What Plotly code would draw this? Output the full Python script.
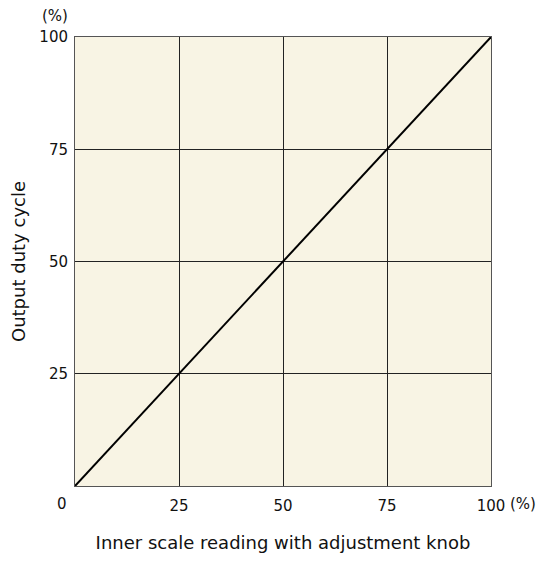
import plotly.graph_objects as go

title_x = 'Inner scale reading with adjustment knob'
title_y = 'Output duty cycle'

knob_reading = [0, 100]
duty_cycle = [0, 100]
tick_vals = [25, 50, 75, 100]
tick_text = ['25', '50', '75', '100']

font = dict(family='DejaVu Sans, Arial, sans-serif', size=15, color='#111111')
title_font = dict(font, size=18)

fig = go.Figure(go.Scatter(x=knob_reading, y=duty_cycle, mode='lines',
                           line=dict(color='black', width=2), showlegend=False))

axis_common = dict(range=[0, 100], tickvals=tick_vals, ticktext=tick_text,
                   showgrid=True, gridcolor='#222222', gridwidth=1,
                   showline=True, linecolor='#555555', linewidth=1, mirror=True,
                   zeroline=False, ticks='', tickfont=font, fixedrange=True,
                   automargin=False)

# page body adds 8px around the plot div, so the figure is drawn 16px smaller
fig.update_layout(
    width=533, height=545,
    margin=dict(l=67, r=50, t=29, b=67),
    paper_bgcolor='white',
    plot_bgcolor='#f8f4e4',
    font=font,
    xaxis=dict(axis_common, ticklabelstandoff=6,
               title=dict(text=title_x, font=title_font, standoff=29)),
    yaxis=dict(axis_common, ticklabelstandoff=3,
               title=dict(text=title_y, font=title_font, standoff=17)),
    annotations=[
        dict(text='0', x=0, y=0, xref='paper', yref='paper', xanchor='center', yanchor='middle',
             xshift=-13, yshift=-18, showarrow=False, font=font),
        dict(text='(%)', x=1, y=0, xref='paper', yref='paper', xanchor='left', yanchor='middle',
             xshift=17, yshift=-18, showarrow=False, font=font),
        dict(text='(%)', x=0, y=1, xref='paper', yref='paper', xanchor='center', yanchor='middle',
             xshift=-20, yshift=21, showarrow=False, font=font),
    ],
)

fig.write_html('out.html')
